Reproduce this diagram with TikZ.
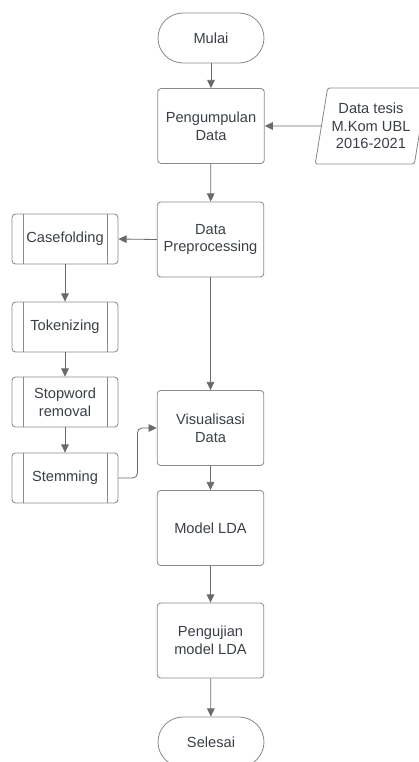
\documentclass[tikz,border=0pt]{standalone}
\usepackage{fontspec}
\setmainfont{Liberation Sans}
\usepackage{tikz}
\usetikzlibrary{positioning}
\usetikzlibrary{arrows.meta,shapes.geometric}
\definecolor{boxline}{HTML}{8A8A8A}
\definecolor{arrline}{HTML}{6A6A6A}
\definecolor{txt}{HTML}{3A3F47}

\tikzset{
 base/.style={draw=boxline,line width=0.7pt,text=txt,align=center,
  font=\fontsize{12.5}{15}\selectfont},
 proc/.style={base,rectangle,rounded corners=3pt,minimum width=3.2cm,minimum height=2.25cm},
 term/.style={base,rectangle,rounded corners=0.75cm,minimum width=3.18cm,minimum height=1.5cm},
 subproc/.style={base,rectangle,rounded corners=3pt,minimum width=3.18cm,minimum height=1.5cm,
  path picture={
   \draw[boxline,line width=0.6pt] ([xshift=0.33cm]path picture bounding box.north west)
     -- ([xshift=0.33cm]path picture bounding box.south west);
   \draw[boxline,line width=0.6pt] ([xshift=-0.33cm]path picture bounding box.north east)
     -- ([xshift=-0.33cm]path picture bounding box.south east);}},
 io/.style={base,trapezium,trapezium left angle=77,trapezium right angle=103,
  trapezium stretches=true,rounded corners=2pt,minimum width=3.18cm,minimum height=2.28cm},
 arr/.style={draw=arrline,line width=0.7pt,-{Triangle[width=6.5pt,length=7pt]},color=arrline}
}

\begin{document}
\begin{tikzpicture}[x=0.03cm,y=-0.03cm]
 \useasboundingbox (0,0) rectangle (418,762);
 \node[term] (mulai) at (211,38) {Mulai};
 \node[proc] (kumpul) at (211,126) {Pengumpulan\\Data};
 \node[io] (tesis) at (371,126) {Data tesis\\M.Kom UBL\\2016-2021};
 \node[proc] (prep) at (210.5,239.5) {Data\\Preprocessing};
 \node[subproc] (case) at (65,239) {Casefolding};
 \node[subproc] (token) at (65,327) {Tokenizing};
 \node[subproc] (stop) at (65,402) {Stopword\\removal};
 \node[subproc] (stem) at (65,478) {Stemming};
 \node[proc] (visual) at (210.5,428) {Visualisasi\\Data};
 \node[proc] (model) at (210.5,528) {Model LDA};
 \node[proc] (uji) at (210.5,640.5) {Pengujian\\model LDA};
 \node[term] (selesai) at (211,742) {Selesai};

 \draw[arr] (mulai) -- (kumpul);
 \draw[arr] (tesis.west) -- (kumpul.east);
 \draw[arr] (kumpul) -- (prep);
 \draw[arr] (prep.west) -- (case.east);
 \draw[arr] (case) -- (token);
 \draw[arr] (token) -- (stop);
 \draw[arr] (stop) -- (stem);
 \draw[arr] (prep) -- (visual);
 \draw[arr,rounded corners=4pt] (stem.east) -- ++(19,0) |- (visual.west);
 \draw[arr] (visual) -- (model);
 \draw[arr] (model) -- (uji);
 \draw[arr] (uji) -- (selesai);
\end{tikzpicture}
\end{document}
